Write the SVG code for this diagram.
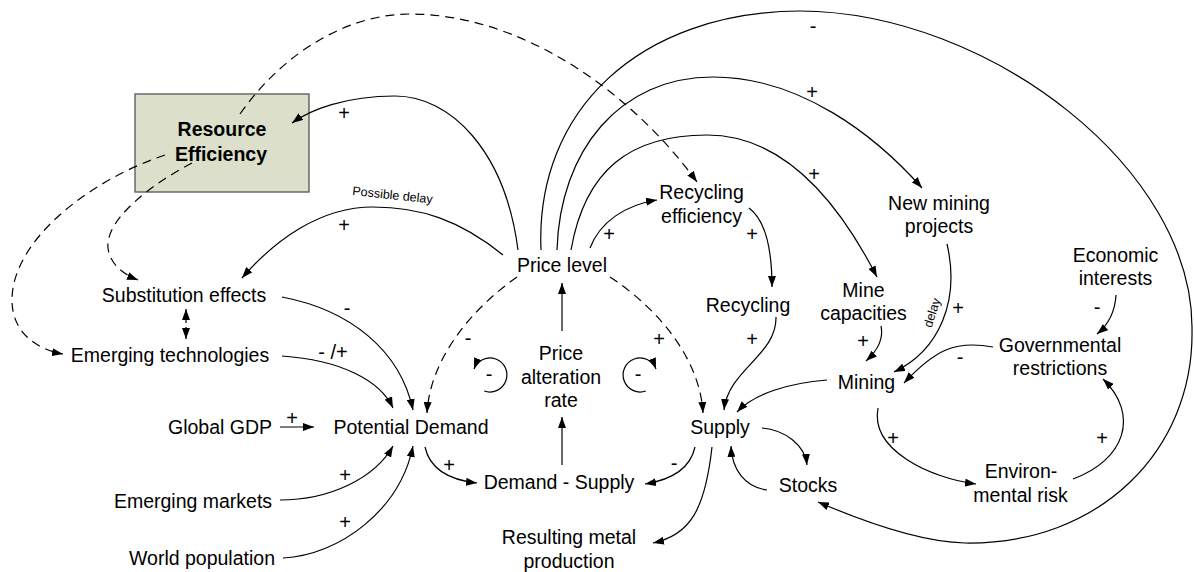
<svg xmlns="http://www.w3.org/2000/svg" width="1194" height="572" viewBox="0 0 1194 572">
<style>
.n{font-family:"Liberation Sans",Arial,sans-serif;font-size:19.5px;fill:#000;text-anchor:middle}
.b{font-weight:bold}
.s{font-family:"Liberation Sans",Arial,sans-serif;font-size:20px;fill:#000;text-anchor:middle}
.sm{font-family:"Liberation Sans",Arial,sans-serif;font-size:12.5px;fill:#000}
.c{fill:none;stroke:#000;stroke-width:1.2;marker-end:url(#ah)}
.d{stroke-dasharray:9,6}
</style>
<defs>
<marker id="ah" markerWidth="11" markerHeight="8" refX="11" refY="4" orient="auto" markerUnits="userSpaceOnUse"><path d="M0,0 L11,4 L0,8 z" fill="#000"/></marker>
<marker id="as" markerWidth="11" markerHeight="8" refX="0" refY="4" orient="auto" markerUnits="userSpaceOnUse"><path d="M11,0 L0,4 L11,8 z" fill="#000"/></marker>
</defs>
<rect width="1194" height="572" fill="#fff"/>
<g id="resource-efficiency">
<rect x="135" y="94" width="174" height="98" fill="#dcdfca" stroke="#555" stroke-width="1.3"/>
<text class="n b" x="222" y="136">Resource</text>
<text class="n b" x="221" y="161">Efficiency</text>
</g>
<g id="connectors">
<path class="c d" d="M240,114 C285,50 350,14 410,14 C520,14 630,90 697,182"/>
<path class="c d" d="M165,155 C90,180 12,240 12,300 C12,335 40,350 63,354"/>
<path class="c d" d="M192,163 C150,185 105,220 108,248 C110,265 125,275 138,280"/>
<path class="c" d="M518,250 C505,150 450,96 395,96 C345,96 310,110 292,123"/>
<path class="c" d="M541,250 C535,110 640,12 800,11 C990,12 1194,170 1192,330 C1194,450 1100,545 965,543 C920,542 860,520 818,502"/>
<path class="c" d="M557,250 C560,150 620,77 713,77 C800,77 875,135 922,188"/>
<path class="c" d="M571,250 C585,170 630,135 707,135 C780,135 835,195 877,277"/>
<path class="c" d="M590,248 C600,222 625,205 657,200"/>
<path class="c" d="M503,255 C460,220 420,207 373,207 C320,207 275,240 242,278"/>
<path class="c d" d="M517,277 C470,310 430,360 427,413"/>
<path class="c d" d="M610,277 C660,310 700,360 703,413"/>
<path class="c" d="M562,331 L562,283"/>
<path class="c" d="M562,465 L562,417"/>
<path class="c" d="M282,297 C350,310 400,350 413,410"/>
<path class="c" d="M282,356 C340,360 380,380 393,408"/>
<path class="c" d="M280,427 L314,427"/>
<path class="c" d="M280,500 C330,500 375,478 393,446"/>
<path class="c" d="M283,558 C340,555 400,510 413,446"/>
<path class="c" d="M425,447 C430,470 450,480 477,483"/>
<path class="c" d="M695,447 C690,470 670,480 645,484"/>
<path class="c" d="M712,447 C705,510 690,535 653,543"/>
<path class="c" d="M767,490 C745,487 732,470 731,446"/>
<path class="c" d="M762,428 C785,430 805,445 807,465"/>
<path class="c" d="M749,208 C765,220 772,250 772,287"/>
<path class="c" d="M776,317 C777,355 728,370 724,410"/>
<path class="c" d="M827,380 C790,383 755,393 737,412"/>
<path class="c" d="M881,326 C884,340 876,352 866,361"/>
<path class="c" d="M947,244 C960,300 940,350 894,372"/>
<path class="c" d="M993,347 C955,340 935,350 904,383"/>
<path class="c" d="M1116,295 C1115,312 1108,325 1097,334"/>
<path class="c" d="M878,408 C870,450 930,478 976,484"/>
<path class="c" d="M1073,479 C1125,460 1140,415 1103,379"/>
<path class="c d" style="stroke-dasharray:5,4;marker-start:url(#as)" d="M186,309 L186,339"/>
<path class="c" d="M484.2,391 A17,17 0 1 0 474,369"/>
<path class="c" d="M645.8,391 A17,17 0 1 1 656,369"/>
</g>
<g id="labels">
<text class="s" x="344" y="120">+</text>
<text class="s" x="344" y="232">+</text>
<text class="sm" x="352" y="195" transform="rotate(6 352 195)">Possible  delay</text>
<text class="s" x="347" y="315">-</text>
<text class="s" x="333" y="359">- /+</text>
<text class="s" x="292" y="425">+</text>
<text class="s" x="345" y="482">+</text>
<text class="s" x="345" y="529">+</text>
<text class="s" x="449" y="472">+</text>
<text class="s" x="674" y="470">-</text>
<text class="s" x="468" y="345">-</text>
<text class="s" x="659" y="346">+</text>
<text class="s" x="489" y="381">-</text>
<text class="s" x="638" y="381">-</text>
<text class="s" x="609" y="241">+</text>
<text class="s" x="752" y="241">+</text>
<text class="s" x="752" y="346">+</text>
<text class="s" x="813" y="33">-</text>
<text class="s" x="812" y="99">+</text>
<text class="s" x="814" y="181">+</text>
<text class="s" x="863" y="348">+</text>
<text class="s" x="958" y="315">+</text>
<text class="s" x="960" y="364">-</text>
<text class="s" x="1097" y="314">-</text>
<text class="s" x="893" y="445">+</text>
<text class="s" x="1102" y="445">+</text>
<text class="sm" x="936" y="314" text-anchor="middle" transform="rotate(-72 936 314)">delay</text>
</g>
<g id="substitution-effects"><text class="n" x="184" y="302">Substitution effects</text></g>
<g id="emerging-technologies"><text class="n" x="170" y="362">Emerging technologies</text></g>
<g id="global-gdp"><text class="n" x="220" y="434">Global GDP</text></g>
<g id="potential-demand"><text class="n" x="411" y="434">Potential Demand</text></g>
<g id="emerging-markets"><text class="n" x="193" y="508">Emerging markets</text></g>
<g id="world-population"><text class="n" x="202" y="565">World population</text></g>
<g id="price-level"><text class="n" x="562" y="272">Price level</text></g>
<g id="price-alteration-rate"><text class="n" x="561" y="360">Price</text><text class="n" x="561" y="383.5">alteration</text><text class="n" x="561" y="407">rate</text></g>
<g id="demand-supply"><text class="n" x="559" y="489">Demand - Supply</text></g>
<g id="resulting-metal-production"><text class="n" x="569" y="544">Resulting metal</text><text class="n" x="569" y="567.5">production</text></g>
<g id="supply"><text class="n" x="720" y="433.5">Supply</text></g>
<g id="stocks"><text class="n" x="808" y="492">Stocks</text></g>
<g id="recycling-efficiency"><text class="n" x="701.5" y="199">Recycling</text><text class="n" x="701.5" y="222.5">efficiency</text></g>
<g id="recycling"><text class="n" x="748" y="312">Recycling</text></g>
<g id="mine-capacities"><text class="n" x="863.5" y="297">Mine</text><text class="n" x="863.5" y="320">capacities</text></g>
<g id="new-mining-projects"><text class="n" x="939" y="209.5">New mining</text><text class="n" x="939" y="233">projects</text></g>
<g id="economic-interests"><text class="n" x="1115.5" y="262">Economic</text><text class="n" x="1115.5" y="285">interests</text></g>
<g id="governmental-restrictions"><text class="n" x="1060" y="351.5">Governmental</text><text class="n" x="1060" y="375">restrictions</text></g>
<g id="mining"><text class="n" x="866.5" y="389">Mining</text></g>
<g id="environmental-risk"><text class="n" x="1021" y="478">Environ-</text><text class="n" x="1020.5" y="502">mental risk</text></g>
</svg>
